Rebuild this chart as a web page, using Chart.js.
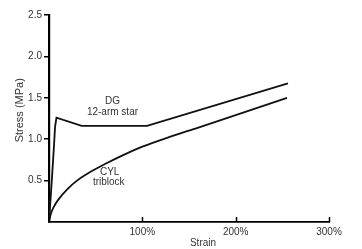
<!DOCTYPE html>
<html>
<head>
<meta charset="utf-8">
<script src="https://cdn.jsdelivr.net/npm/chart.js@4"></script>
<style>
  html, body { margin: 0; padding: 0; background: #fff; }
  #wrap { width: 362px; height: 249px; }
</style>
</head>
<body>
<div id="wrap"><canvas id="myChart" width="362" height="249"></canvas></div>
<script>
// DG 12-arm star
const dgStrain = [0, 3, 5.5, 6.5, 8, 35, 105, 256];
const dgStress = [0, 0.5, 0.95, 1.15, 1.26, 1.16, 1.16, 1.675];
// CYL triblock
const cylStrain = [0, 2, 5, 10, 20, 30, 45, 60, 80, 100, 130, 160, 200, 255];
const cylStress = [0, 0.10, 0.18, 0.27, 0.40, 0.50, 0.61, 0.70, 0.81, 0.91, 1.03, 1.14, 1.29, 1.50];

const xTicks = [100, 200, 300];
const yTicks = [0.5, 1.0, 1.5, 2.0, 2.5];

const FONT = "'Liberation Sans', Arial, sans-serif";
const TXT = '#333';

function pts(xs, ys) {
    return xs.map((x, i) => ({ x: x, y: ys[i] }));
}

// curve labels, placed in data units
const curveLabels = [
    { text: 'DG', x: 68, y: 1.455 },
    { text: '12-arm star', x: 68, y: 1.33 },
    { text: 'CYL', x: 65, y: 0.60 },
    { text: 'triblock', x: 64, y: 0.48 }
];

const extras = {
    id: 'extras',
    afterDraw(chart) {
        const ctx = chart.ctx;
        const xs = chart.scales.x;
        const ys = chart.scales.y;
        const area = chart.chartArea;
        ctx.save();
        // inward ticks on the x axis
        ctx.strokeStyle = '#000';
        ctx.lineWidth = 1.5;
        xTicks.forEach(v => {
            const px = Math.round(xs.getPixelForValue(v)) + 0.5;
            ctx.beginPath();
            ctx.moveTo(px, area.bottom);
            ctx.lineTo(px, area.bottom - 5);
            ctx.stroke();
        });
        // curve labels
        ctx.fillStyle = TXT;
        ctx.font = '10px ' + FONT;
        ctx.textAlign = 'center';
        ctx.textBaseline = 'middle';
        curveLabels.forEach(l => {
            ctx.fillText(l.text, xs.getPixelForValue(l.x), ys.getPixelForValue(l.y));
        });
        // axis titles
        ctx.fillText('Strain', xs.getPixelForValue(165), area.bottom + 21);
        ctx.font = '11px ' + FONT;
        ctx.translate(20, ys.getPixelForValue(1.35));
        ctx.rotate(-Math.PI / 2);
        ctx.fillText('Stress (MPa)', 0, 0);
        ctx.restore();
    }
};

new Chart(document.getElementById('myChart'), {
    type: 'line',
    data: {
        datasets: [{
            label: 'DG 12-arm star',
            data: pts(dgStrain, dgStress),
            borderColor: '#111',
            borderWidth: 1.8,
            pointRadius: 0,
            tension: 0,
            fill: false
        }, {
            label: 'CYL triblock',
            data: pts(cylStrain, cylStress),
            borderColor: '#111',
            borderWidth: 1.8,
            pointRadius: 0,
            cubicInterpolationMode: 'monotone',
            fill: false
        }]
    },
    options: {
        responsive: false,
        animation: false,
        layout: { padding: { left: 0, top: 15, right: 33, bottom: 0 } },
        plugins: {
            legend: { display: false },
            tooltip: { enabled: false }
        },
        scales: {
            x: {
                type: 'linear',
                min: 0,
                max: 300,
                afterBuildTicks: s => { s.ticks = [0].concat(xTicks).map(v => ({ value: v })); },
                afterFit: s => { s.height = 27; },
                grid: { display: false, drawTicks: false },
                border: { color: '#000', width: 1.8 },
                ticks: {
                    padding: 4,
                    color: TXT,
                    font: { family: FONT, size: 10 },
                    maxRotation: 0,
                    callback: v => v === 0 ? '' : v + '%'
                }
            },
            y: {
                min: 0,
                max: 2.5,
                afterBuildTicks: s => { s.ticks = [0].concat(yTicks).map(v => ({ value: v })); },
                afterFit: s => { s.width = 49; },
                grid: {
                    drawOnChartArea: false,
                    drawTicks: true,
                    tickLength: 5,
                    lineWidth: 1.5,
                    color: c => c.tick && c.tick.value === 0 ? 'rgba(0,0,0,0)' : '#000'
                },
                border: { color: '#000', width: 2.2 },
                ticks: {
                    padding: 2,
                    color: TXT,
                    font: { family: FONT, size: 10 },
                    callback: v => v === 0 ? '' : v.toFixed(1)
                }
            }
        }
    },
    plugins: [extras]
});
</script>
</body>
</html>
